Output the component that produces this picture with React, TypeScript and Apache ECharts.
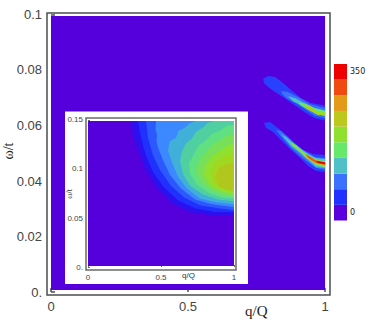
import React, { useEffect, useRef } from "react";
import * as echarts from "echarts";

type Pt = [number, number];

const barTop: string[] = ["#ee0000", "#f04a10", "#e49a18", "#bcc81c", "#90e030", "#66e86a", "#50c0c8", "#3c70ff", "#2030ff", "#5a00dc"];
const barColors = [...barTop].reverse();
const barLabels = ["0", "", "", "", "", "", "", "", "", "350"];
const barValues = [1, 1, 1, 1, 1, 1, 1, 1, 1, 1];

const mainXTicks = [0, 0.5, 1];
const mainYTicks = [0, 0.02, 0.04, 0.06, 0.08, 0.1];
const insetXTicks = [0, 0.5, 1];
const insetYTicks = [0, 0.05, 0.1, 0.15];

const mainBg: Pt[] = [[0, 0.0007], [1, 0.0007], [1, 0.0995], [0, 0.0995]];
const insetBg: Pt[] = [[0, 0.001], [1, 0.001], [1, 0.149], [0, 0.149]];

const upper1: Pt[] = [[0.774, 0.0768], [0.792, 0.0778], [0.818, 0.0775], [0.847, 0.0753], [0.876, 0.0728], [0.912, 0.0699], [0.949, 0.0681], [1, 0.0672], [1, 0.0618], [0.964, 0.0625], [0.927, 0.0647], [0.891, 0.0672], [0.854, 0.0697], [0.818, 0.0721], [0.792, 0.0739], [0.777, 0.0753]];
const upper2: Pt[] = [[0.839, 0.0724], [0.865, 0.0721], [0.909, 0.0699], [0.945, 0.0677], [1, 0.0663], [1, 0.0627], [0.964, 0.0634], [0.927, 0.0659], [0.891, 0.0681], [0.858, 0.0699], [0.843, 0.0714]];
const upper3: Pt[] = [[0.865, 0.0706], [0.894, 0.0697], [0.92, 0.0683], [0.956, 0.0665], [1, 0.0654], [1, 0.0633], [0.964, 0.0643], [0.931, 0.0661], [0.909, 0.0676], [0.883, 0.0687]];
const upper4: Pt[] = [[0.901, 0.0683], [0.927, 0.0679], [0.964, 0.0661], [1, 0.0652], [1, 0.0635], [0.967, 0.0643], [0.938, 0.0658], [0.912, 0.0672]];
const upper5: Pt[] = [[0.92, 0.0677], [0.945, 0.067], [0.974, 0.0649], [1, 0.0647], [1, 0.0638], [0.974, 0.0638], [0.949, 0.0652], [0.931, 0.0663]];
const upper6: Pt[] = [[0.934, 0.0667], [0.956, 0.0659], [0.964, 0.0649], [0.945, 0.0656]];

const lower1: Pt[] = [[0.777, 0.0609], [0.799, 0.0613], [0.828, 0.0591], [0.858, 0.0566], [0.891, 0.0537], [0.92, 0.0512], [0.956, 0.0497], [1, 0.0494], [1, 0.0432], [0.967, 0.0436], [0.938, 0.0454], [0.909, 0.0483], [0.876, 0.0512], [0.839, 0.0548], [0.81, 0.0577], [0.785, 0.0591]];
const lower2: Pt[] = [[0.821, 0.0584], [0.839, 0.058], [0.872, 0.0551], [0.901, 0.0519], [0.931, 0.0505], [0.964, 0.0486], [1, 0.0483], [1, 0.044], [0.967, 0.0447], [0.938, 0.0468], [0.909, 0.049], [0.876, 0.0519], [0.847, 0.0551]];
const lower3: Pt[] = [[0.839, 0.0569], [0.858, 0.0559], [0.883, 0.0537], [0.909, 0.0519], [0.938, 0.0497], [0.967, 0.0483], [1, 0.0479], [1, 0.0447], [0.967, 0.045], [0.938, 0.0476], [0.909, 0.0501], [0.876, 0.0526]];
const lower4: Pt[] = [[0.872, 0.0544], [0.894, 0.053], [0.92, 0.0505], [0.949, 0.0486], [0.974, 0.0476], [1, 0.0472], [1, 0.045], [0.967, 0.0458], [0.938, 0.0483], [0.909, 0.0505], [0.883, 0.0526]];
const lower5: Pt[] = [[0.901, 0.0519], [0.92, 0.0497], [0.956, 0.0479], [1, 0.0468], [1, 0.0454], [0.964, 0.0465], [0.931, 0.0483], [0.909, 0.0505]];
const lower6: Pt[] = [[0.927, 0.0497], [0.949, 0.0486], [0.964, 0.0476], [1, 0.0466], [1, 0.0458], [0.967, 0.0465], [0.938, 0.0483]];
const lower7: Pt[] = [[0.967, 0.0472], [1, 0.0468], [1, 0.0461], [0.974, 0.0465]];

const inset1: Pt[] = [[0.295, 0.149], [0.315, 0.132], [0.356, 0.114], [0.404, 0.097], [0.479, 0.079], [0.575, 0.065], [0.699, 0.056], [0.836, 0.053], [1, 0.053], [1, 0.149]];
const inset2: Pt[] = [[0.342, 0.149], [0.363, 0.132], [0.397, 0.114], [0.445, 0.097], [0.521, 0.081], [0.616, 0.068], [0.733, 0.06], [0.87, 0.056], [1, 0.056], [1, 0.149]];
const inset3: Pt[] = [[0.397, 0.149], [0.411, 0.132], [0.445, 0.114], [0.493, 0.099], [0.568, 0.083], [0.658, 0.071], [0.767, 0.063], [0.89, 0.06], [1, 0.058], [1, 0.149]];
const inset4: Pt[] = [[0.466, 0.149], [0.462, 0.14], [0.472, 0.136], [0.47, 0.128], [0.479, 0.122], [0.514, 0.109], [0.562, 0.094], [0.637, 0.08], [0.733, 0.069], [0.849, 0.064], [1, 0.061], [1, 0.149]];
const inset5: Pt[] = [[0.733, 0.149], [0.69, 0.146], [0.664, 0.142], [0.62, 0.139], [0.603, 0.132], [0.56, 0.128], [0.548, 0.119], [0.575, 0.107], [0.616, 0.092], [0.678, 0.08], [0.767, 0.07], [0.877, 0.066], [1, 0.064], [1, 0.149]];
const inset6: Pt[] = [[0.863, 0.149], [0.82, 0.147], [0.788, 0.142], [0.74, 0.138], [0.712, 0.131], [0.67, 0.126], [0.644, 0.118], [0.63, 0.108], [0.651, 0.095], [0.699, 0.083], [0.788, 0.074], [0.89, 0.069], [1, 0.067], [1, 0.149]];
const inset7: Pt[] = [[1, 0.145], [0.95, 0.144], [0.904, 0.139], [0.85, 0.136], [0.808, 0.129], [0.76, 0.124], [0.726, 0.115], [0.692, 0.106], [0.699, 0.095], [0.747, 0.084], [0.822, 0.076], [0.918, 0.071], [1, 0.07]];
const inset8: Pt[] = [[1, 0.136], [0.95, 0.134], [0.904, 0.129], [0.86, 0.126], [0.822, 0.12], [0.785, 0.114], [0.76, 0.108], [0.74, 0.1], [0.767, 0.088], [0.836, 0.079], [0.918, 0.074], [1, 0.072]];
const inset9: Pt[] = [[1, 0.126], [0.96, 0.124], [0.918, 0.12], [0.849, 0.113], [0.801, 0.103], [0.795, 0.094], [0.836, 0.083], [0.918, 0.077], [1, 0.0745]];
const inset10: Pt[] = [[1, 0.116], [0.932, 0.113], [0.863, 0.106], [0.836, 0.096], [0.856, 0.085], [0.918, 0.079], [1, 0.076]];
const inset11: Pt[] = [[1, 0.106], [0.945, 0.105], [0.897, 0.101], [0.87, 0.092], [0.89, 0.083], [0.95, 0.079], [1, 0.078]];

const PURPLE = "#5500dc";
const mainBands: [Pt[], string][] = [
  [mainBg, PURPLE],
  [upper1, "#2a40ff"], [upper2, "#3c70ff"], [upper3, "#50c0c8"], [upper4, "#66e86a"], [upper5, "#a0d820"], [upper6, "#b8c81c"],
  [lower1, "#2a40ff"], [lower2, "#3c70ff"], [lower3, "#50c0c8"], [lower4, "#80e050"], [lower5, "#c0c81c"], [lower6, "#f05a10"], [lower7, "#e00000"],
];
const insetBands: [Pt[], string][] = [
  [insetBg, PURPLE],
  [inset1, "#2c10f0"], [inset2, "#2030ff"], [inset3, "#2c58ff"], [inset4, "#3c88ff"], [inset5, "#40b0d8"],
  [inset6, "#50d0a0"], [inset7, "#60e080"], [inset8, "#78e058"], [inset9, "#90e030"], [inset10, "#a0d820"], [inset11, "#b0c81e"],
];

const bandSeries = (bands: [Pt[], string][], axis: number, z: number) => ({
  type: "custom",
  coordinateSystem: "cartesian2d",
  xAxisIndex: axis,
  yAxisIndex: axis,
  z,
  silent: true,
  clip: false,
  data: bands.map((_, i) => [i]),
  encode: { x: -1, y: -1 },
  renderItem: (params: any, api: any) => {
    const [ring, fill] = bands[params.dataIndex];
    return {
      type: "polygon",
      shape: { points: ring.map((p) => api.coord(p)) },
      style: { fill, stroke: "none" },
    };
  },
});

const axisInk = "#4a4f4f";
const insetInk = "#6a6a6a";

export default function App() {
  const ref = useRef<HTMLDivElement>(null);
  useEffect(() => {
    const chart = echarts.init(ref.current!, undefined, { renderer: "svg" });
    chart.setOption({
      animation: false,
      backgroundColor: "#fff",
      grid: [
        { left: 47, top: 13, width: 283, height: 282, outerBoundsMode: "none", show: true, borderColor: axisInk, borderWidth: 1.5, backgroundColor: "transparent" },
        { left: 86, top: 118, width: 150, height: 152, outerBoundsMode: "none", show: true, z: 3, borderColor: insetInk, borderWidth: 1.5, backgroundColor: "transparent" },
        { left: 334, top: 64, width: 13, height: 156.5, outerBoundsMode: "none" },
      ],
      xAxis: [
        {
          gridIndex: 0, type: "value", min: -0.0146, max: 1.018,
          splitLine: { show: false }, axisLine: { show: false },
          axisTick: { show: true, inside: true, length: 4, customValues: mainXTicks, lineStyle: { color: axisInk, width: 1.5 } },
          axisLabel: { customValues: mainXTicks, margin: 5, fontSize: 13, fontFamily: "Liberation Sans", color: "#444", formatter: (v: number) => String(v) },
        },
        {
          gridIndex: 1, type: "value", min: -0.0137, max: 1.0137, z: 4,
          splitLine: { show: false }, axisLine: { show: false },
          axisTick: { show: true, inside: true, length: 2, customValues: insetXTicks, lineStyle: { color: insetInk, width: 1 } },
          axisLabel: { customValues: insetXTicks, margin: 3, fontSize: 8, fontFamily: "Liberation Sans", color: "#444", formatter: (v: number) => String(v) },
        },
        { gridIndex: 2, type: "value", min: 0, max: 1, show: false },
      ],
      yAxis: [
        {
          gridIndex: 0, type: "value", min: -0.00108, max: 0.10054,
          name: "ω/t", nameLocation: "middle", nameGap: 32, nameRotate: 90, nameMoveOverlap: false,
          nameTextStyle: { fontFamily: "Liberation Serif", fontSize: 14, color: "#222", padding: [0, 0, 0, 6] },
          splitLine: { show: false }, axisLine: { show: false },
          axisTick: { show: true, inside: true, length: 4, customValues: mainYTicks, lineStyle: { color: axisInk, width: 1.5 } },
          axisLabel: { customValues: mainYTicks, margin: 5, fontSize: 13, fontFamily: "Liberation Sans", color: "#444", formatter: (v: number) => (v === 0 ? "0." : String(v)) },
        },
        {
          gridIndex: 1, type: "value", min: -0.00306, max: 0.15204, z: 4,
          name: "ω/t", nameLocation: "middle", nameGap: 13, nameRotate: 90, nameMoveOverlap: false,
          nameTextStyle: { fontFamily: "Liberation Serif", fontSize: 8, color: "#333" },
          splitLine: { show: false }, axisLine: { show: false },
          axisTick: { show: true, inside: true, length: 2, customValues: insetYTicks, lineStyle: { color: insetInk, width: 1 } },
          axisLabel: { customValues: insetYTicks, margin: 3, fontSize: 8, fontFamily: "Liberation Sans", color: "#444", formatter: (v: number) => (v === 0 ? "0." : String(v)) },
        },
        {
          gridIndex: 2, type: "category", data: barLabels.map((_, i) => i), position: "right",
          axisLine: { show: false }, axisTick: { show: false }, splitLine: { show: false },
          axisLabel: { interval: 0, margin: 3, fontSize: 8, fontFamily: "DejaVu Sans", color: "#222", formatter: (_: any, i: number) => barLabels[i] },
        },
      ],
      series: [
        bandSeries(mainBands, 0, 1),
        bandSeries(insetBands, 1, 5),
        {
          type: "bar", xAxisIndex: 2, yAxisIndex: 2, barWidth: "100%", silent: true,
          data: barValues.map((v, i) => ({ value: v, itemStyle: { color: barColors[i] } })),
        },
      ],
      graphic: [
        { type: "rect", z: 2, shape: { x: 65, y: 111.5, width: 183, height: 172.5 }, style: { fill: "#fff" } },
        { type: "text", x: 245, y: 303, z: 2, style: { text: "q/Q", fontFamily: "Liberation Serif", fontSize: 15, fill: "#222" } },
        { type: "text", x: 182, y: 271.5, z: 6, style: { text: "q/Q", fontFamily: "Liberation Sans", fontSize: 8, fill: "#333333" } },
      ],
    });
    return () => chart.dispose();
  }, []);
  return <div ref={ref} style={{ position: "absolute", left: 0, top: 0, width: 382, height: 325 }} />;
}
